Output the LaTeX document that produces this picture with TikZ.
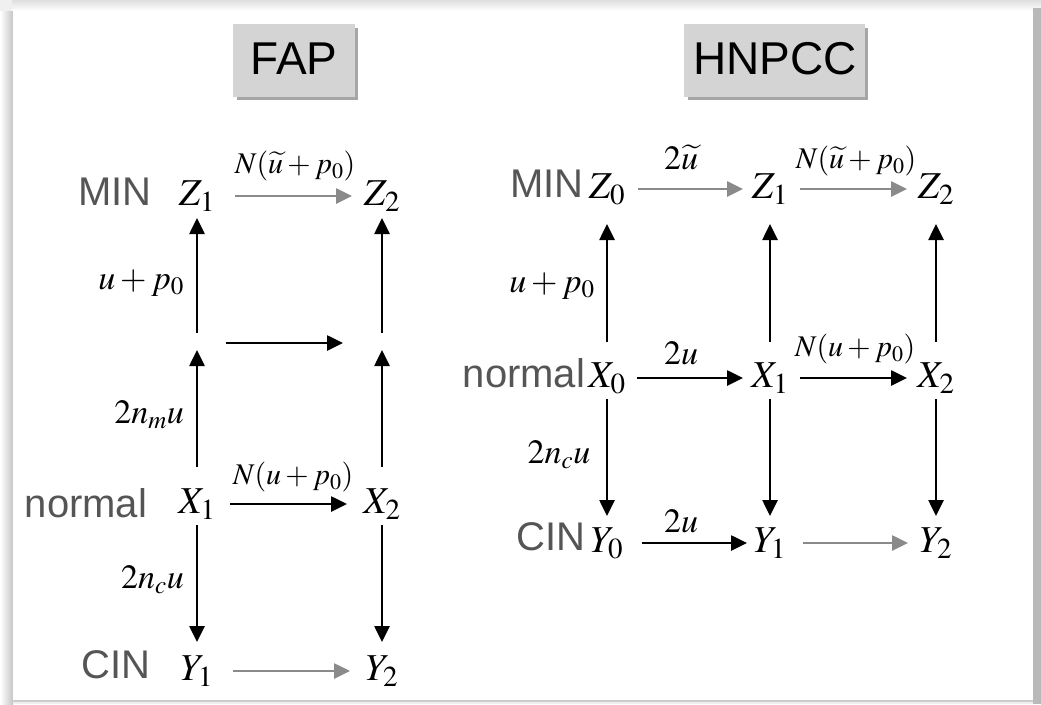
\documentclass[tikz,border=0pt]{standalone}
\usepackage{mathptmx}
\usepackage[no-math]{fontspec}
\usetikzlibrary{arrows.meta}
\newfontfamily\labelfont{Liberation Sans}
\definecolor{labelgray}{HTML}{555555}
\definecolor{arrowgray}{HTML}{8A8A8A}
\definecolor{boxgray}{HTML}{D4D4D4}
\DeclareMathSizes{38}{38}{29}{22}
\DeclareMathSizes{34}{34}{25}{20}
\DeclareMathSizes{30}{30}{22}{17}
\begin{document}
\begin{tikzpicture}[x=1pt,y=-1pt]
      \tikzstyle{state}=[inner sep=0pt,text height=25pt,text depth=7pt,anchor=base,font=\fontsize{38}{42}\selectfont]
      \tikzstyle{kind}=[inner sep=0pt,text=labelgray,font=\labelfont\fontsize{40}{44}\selectfont]
      \tikzstyle{title}=[inner sep=0pt,font=\labelfont\fontsize{46}{50}\selectfont]
      \tikzstyle{rate}=[inner sep=0pt,font=\fontsize{34}{38}\selectfont]
      \tikzstyle{nrate}=[inner sep=0pt,font=\fontsize{30}{34}\selectfont]
      \tikzstyle{edge}=[draw,line width=2.6pt,-{Triangle[length=16pt,width=15pt]}]
      \tikzstyle{grayedge}=[edge,draw=arrowgray]
      \useasboundingbox (0,0) rectangle (1041,704);
      % panel with its shadow
      \fill[gray!12] (0,0) rectangle (1041,704);
      \shade[top color=gray!25,bottom color=white] (12,0) rectangle (1041,11);
      \shade[left color=white,right color=gray!45] (0,11) rectangle (13,704);
      \fill[gray!55] (1033,8) rectangle (1041,704);
      \fill[white] (13,11) rectangle (1033,701);
      \draw[gray!40,line width=1.5pt] (13,701) -- (1033,701);
      % titles
      \fill[gray!70] (237,28) rectangle (358,100);
      \path[fill=boxgray] (233,24) rectangle (355,97);
      \node[title] (fap) at (294,59) {FAP};
      \fill[gray!70] (688,28) rectangle (868,100);
      \path[fill=boxgray] (684,24) rectangle (865,97);
      \node[title] (hnpcc) at (775,59) {HNPCC};
      % FAP
      \node[kind] (fmin) at (115,192) {MIN};
      \node[kind] (fnormal) at (86,503) {normal};
      \node[kind] (fcin) at (116,665) {CIN};
      \node[state] (Z1) at (197,205) {$Z_1$};
      \node[state] (Z2) at (382,205) {$Z_2$};
      \coordinate (M1) at (197,343);
      \coordinate (M2) at (382,343);
      \node[state] (X1) at (197,513) {$X_1$};
      \node[state] (X2) at (382,513) {$X_2$};
      \node[state] (Y1) at (197,680) {$Y_1$};
      \node[state] (Y2) at (382,680) {$Y_2$};
      \path[grayedge,shorten <=38pt,shorten >=30pt] (Z1.center) -- (Z2.center);
      \path[edge,shorten <=29pt,shorten >=39pt] (M1) -- (M2);
      \path[edge,shorten <=33pt,shorten >=35pt] (X1.center) -- (X2.center);
      \path[grayedge,shorten <=36pt,shorten >=32pt] (Y1.center) -- (Y2.center);
      \path[edge,shorten <=10pt,shorten >=22pt] (M1) -- (Z1.center);
      \path[edge,shorten <=10pt,shorten >=22pt] (M2) -- (Z2.center);
      \path[edge,shorten <=37pt,shorten >=7pt] (X1.center) -- (M1);
      \path[edge,shorten <=37pt,shorten >=7pt] (X2.center) -- (M2);
      \path[edge,shorten <=21pt,shorten >=29pt] (X1.center) -- (Y1.center);
      \path[edge,shorten <=21pt,shorten >=29pt] (X2.center) -- (Y2.center);
      \node[nrate] (fzrate) at (295,166) {$N(\widetilde{u}+p_0)$};
      \node[nrate] (fxrate) at (293,477) {$N(u+p_0)$};
      \node[rate,anchor=east] (fup) at (184,283) {$u+p_0$};
      \node[rate,anchor=east] (fmrate) at (184,415) {$2n_m u$};
      \node[rate,anchor=east] (fcrate) at (184,580) {$2n_c u$};
      % HNPCC
      \node[kind] (hmin) at (547,184) {MIN};
      \node[kind] (hnormal) at (524,373) {normal};
      \node[kind] (hcin) at (551,537) {CIN};
      \node[state] (hZ0) at (607,198) {$Z_0$};
      \node[state] (hZ1) at (770,198) {$Z_1$};
      \node[state] (hZ2) at (936,198) {$Z_2$};
      \node[state] (hX0) at (607,387) {$X_0$};
      \node[state] (hX1) at (770,387) {$X_1$};
      \node[state] (hX2) at (936,387) {$X_2$};
      \node[state] (hY0) at (607,552) {$Y_0$};
      \node[state] (hY1) at (770,552) {$Y_1$};
      \node[state] (hY2) at (936,552) {$Y_2$};
      \path[grayedge,shorten <=31pt,shorten >=27pt] (hZ0.center) -- (hZ1.center);
      \path[grayedge,shorten <=30pt,shorten >=29pt] (hZ1.center) -- (hZ2.center);
      \path[edge,shorten <=30pt,shorten >=27pt] (hX0.center) -- (hX1.center);
      \path[edge,shorten <=30pt,shorten >=29pt] (hX1.center) -- (hX2.center);
      \path[edge,shorten <=35pt,shorten >=23pt] (hY0.center) -- (hY1.center);
      \path[grayedge,shorten <=33pt,shorten >=28pt] (hY1.center) -- (hY2.center);
      \path[edge,shorten <=36pt,shorten >=35pt] (hX0.center) -- (hZ0.center);
      \path[edge,shorten <=36pt,shorten >=35pt] (hX1.center) -- (hZ1.center);
      \path[edge,shorten <=36pt,shorten >=35pt] (hX2.center) -- (hZ2.center);
      \path[edge,shorten <=21pt,shorten >=27pt] (hX0.center) -- (hY0.center);
      \path[edge,shorten <=21pt,shorten >=27pt] (hX1.center) -- (hY1.center);
      \path[edge,shorten <=21pt,shorten >=27pt] (hX2.center) -- (hY2.center);
      \node[rate] (hzrate) at (681,157) {$2\widetilde{u}$};
      \node[nrate] (hzzrate) at (856,161) {$N(\widetilde{u}+p_0)$};
      \node[rate] (hup) at (552,286) {$u+p_0$};
      \node[rate] (hxrate) at (681,353) {$2u$};
      \node[nrate] (hxxrate) at (855,349) {$N(u+p_0)$};
      \node[rate] (hcrate) at (559,455) {$2n_c u$};
      \node[rate] (hyrate) at (681,521) {$2u$};
\end{tikzpicture}
\end{document}
